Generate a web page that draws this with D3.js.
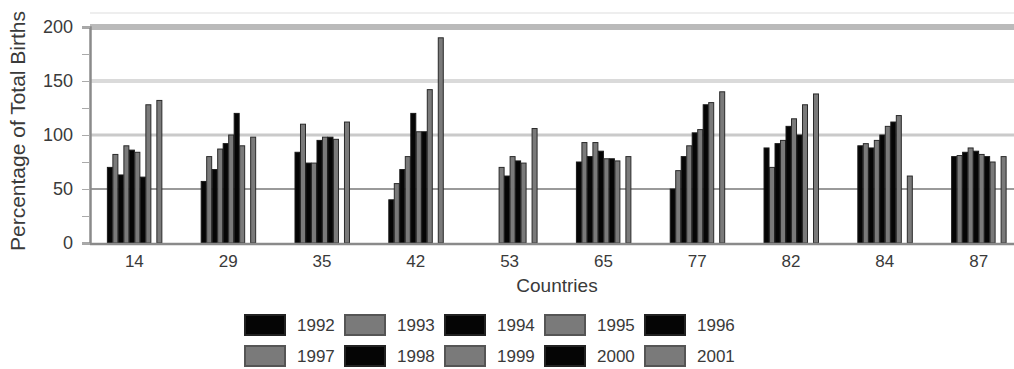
<!DOCTYPE html>
<html>
<head>
<meta charset="utf-8">
<script src="https://cdn.jsdelivr.net/npm/d3@7"></script>
<style>
  body { margin: 0; background: #fff; }
  text { font-family: "Liberation Sans", Arial, sans-serif; fill: #3a3a3a; }
</style>
</head>
<body>
<div id="container"></div>
<script>
// countries on the x axis
const countries = ['14', '29', '35', '42', '53', '65', '77', '82', '84', '87'];
const years = ['1992', '1993', '1994', '1995', '1996', '1997', '1998', '1999', '2000', '2001'];

// one value per country, in the order of `countries` (null = no bar)
const y1992 = [70, 57, 84, 40, null, 75, 50, 88, 90, 80];
const y1993 = [82, 80, 110, 55, null, 93, 67, 70, 92, 81];
const y1994 = [63, 68, 74, 68, null, 80, 80, 92, 88, 84];
const y1995 = [90, 87, 74, 80, 70, 93, 90, 95, 95, 88];
const y1996 = [86, 92, 95, 120, 62, 85, 102, 108, 100, 85];
const y1997 = [84, 100, 98, 103, 80, 78, 105, 115, 108, 82];
const y1998 = [61, 120, 98, 103, 76, 78, 128, 100, 112, 80];
const y1999 = [128, 90, 96, 142, 74, 76, 130, 128, 118, 75];
const y2000 = [null, null, null, null, null, null, null, null, null, null];
const y2001 = [132, 98, 112, 190, 106, 80, 140, 138, 62, 80];

const yTicks = [0, 50, 100, 150, 200];

const series = [y1992, y1993, y1994, y1995, y1996, y1997, y1998, y1999, y2000, y2001];

const width = 1014, height = 369;
const margin = { left: 90, top: 27, bottom: 243 };

const svg = d3.select('#container').append('svg')
  .attr('width', width)
  .attr('height', height);

const y = d3.scaleLinear().domain([0, 200]).range([margin.bottom, margin.top]);

const x0 = d3.scaleBand()
  .domain(countries)
  .range([margin.left, 1023])
  .paddingInner(0.414)
  .paddingOuter(0.18);

const x1 = d3.scaleBand()
  .domain(years)
  .range([0, x0.bandwidth()]);

const fillFor = (yr, i) => i % 2 === 0 ? '#050505' : '#7a7a7a';
const strokeFor = (yr, i) => i % 2 === 0 ? '#1a1a1a' : '#2a2a2a';

// gridlines: each level drawn a bit differently, like the original
const gridStyle = {
  0: { color: '#8a8a8a', w: 2.5 },
  50: { color: '#9a9a9a', w: 2 },
  100: { color: '#cacaca', w: 3 },
  150: { color: '#dadada', w: 4 },
  200: { color: '#bababa', w: 6 }
};

svg.append('line')
  .attr('x1', margin.left).attr('x2', width)
  .attr('y1', 13).attr('y2', 13)
  .style('stroke', '#eeeeee').style('stroke-width', 2);

svg.append('g').selectAll('line')
  .data(yTicks.filter(d => d > 0))
  .enter().append('line')
  .attr('x1', margin.left).attr('x2', width)
  .attr('y1', d => y(d)).attr('y2', d => y(d))
  .style('stroke', d => gridStyle[d].color)
  .style('stroke-width', d => gridStyle[d].w);

// bars
const group = svg.append('g').selectAll('g')
  .data(countries)
  .enter().append('g')
  .attr('transform', d => 'translate(' + x0(d) + ',0)');

group.selectAll('rect')
  .data((c, ci) => years.map((yr, i) => ({ yr: yr, i: i, v: series[i][ci] })).filter(d => d.v !== null))
  .enter().append('rect')
  .attr('x', d => x1(d.yr) + 0.5)
  .attr('y', d => y(d.v))
  .attr('width', x1.bandwidth() - 0.5)
  .attr('height', d => y(0) - y(d.v))
  .style('fill', d => fillFor(d.yr, d.i))
  .style('stroke', d => strokeFor(d.yr, d.i))
  .style('stroke-width', 1);

// baseline
svg.append('line')
  .attr('x1', margin.left).attr('x2', width)
  .attr('y1', y(0) + 1).attr('y2', y(0) + 1)
  .style('stroke', gridStyle[0].color)
  .style('stroke-width', gridStyle[0].w);

// y axis
const yAxis = d3.axisLeft(y).tickValues(d3.range(0, 201, 25)).tickSize(8).tickFormat(d => yTicks.includes(d) ? d : '');
const ya = svg.append('g')
  .attr('transform', 'translate(' + margin.left + ',0)')
  .call(yAxis);
ya.select('.domain').style('stroke', '#8a8a8a').style('stroke-width', 2.5);
ya.selectAll('.tick line').style('stroke', '#aaa');
ya.selectAll('.tick text')
  .attr('x', -17)
  .style('font-size', '18px')
  .style('font-family', '"Liberation Sans", Arial, sans-serif')
  .style('fill', '#3a3a3a');

// x axis labels
const xAxis = d3.axisBottom(x0).tickSize(0).tickPadding(10);
const xa = svg.append('g')
  .attr('transform', 'translate(0,' + (y(0) + 2) + ')')
  .call(xAxis);
xa.select('.domain').remove();
xa.selectAll('.tick text')
  .style('font-size', '17px')
  .style('font-family', '"Liberation Sans", Arial, sans-serif')
  .style('fill', '#3a3a3a');

svg.append('text')
  .attr('x', 557).attr('y', 292)
  .attr('text-anchor', 'middle')
  .style('font-size', '19px')
  .text('Countries');

svg.append('text')
  .attr('transform', 'translate(25,131) rotate(-90)')
  .attr('text-anchor', 'middle')
  .style('font-size', '21px')
  .text('Percentage of Total Births');

// legend, 5 columns x 2 rows
const legend = svg.append('g').selectAll('g')
  .data(years)
  .enter().append('g')
  .attr('transform', (d, i) => 'translate(' + (245 + (i % 5) * 100) + ',' + (315 + Math.floor(i / 5) * 31) + ')');

legend.append('rect')
  .attr('width', 40).attr('height', 20)
  .style('fill', (d, i) => fillFor(d, i))
  .style('stroke', (d, i) => i % 2 === 0 ? '#222' : '#555')
  .style('stroke-width', 2);

legend.append('text')
  .attr('x', 52).attr('y', 16)
  .style('font-size', '17px')
  .text(d => d);
</script>
</body>
</html>
